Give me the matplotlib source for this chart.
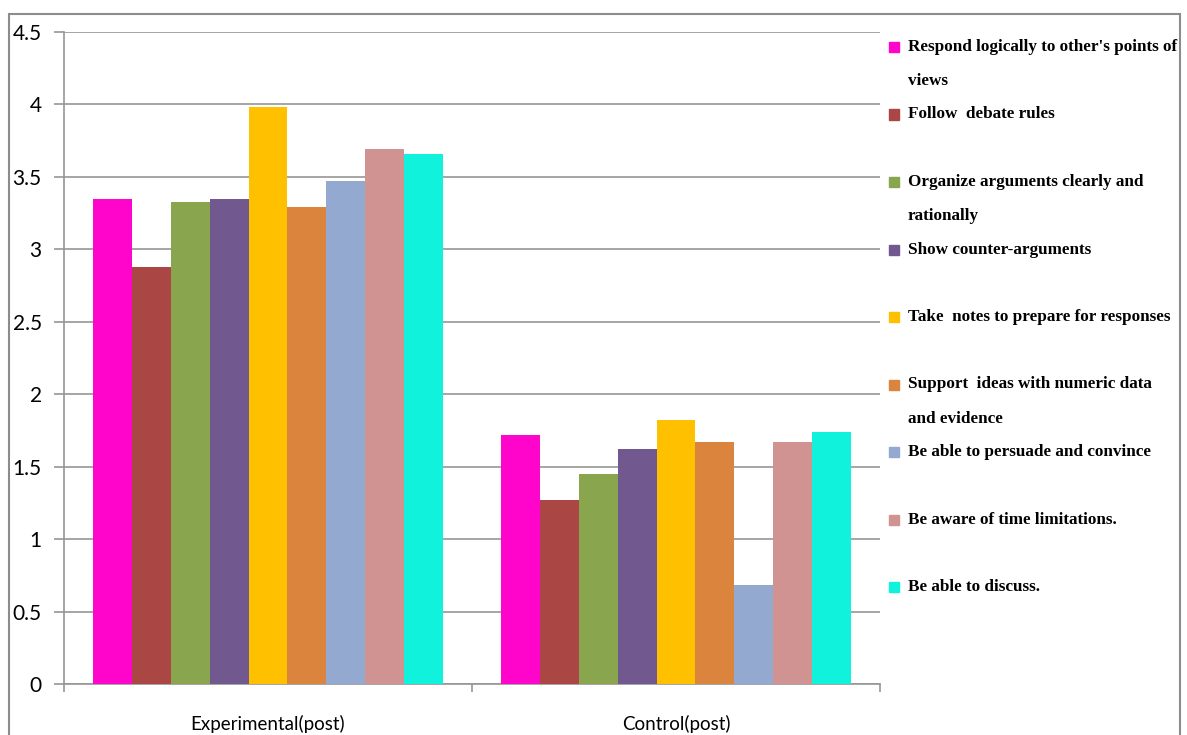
import matplotlib.pyplot as plt
import numpy as np
from matplotlib.patches import Rectangle

groups = ["Experimental(post)", "Control(post)"]
skills = [
    "Respond logically to other's points of\nviews",
    "Follow  debate rules",
    "Organize arguments clearly and\nrationally",
    "Show counter-arguments",
    "Take  notes to prepare for responses",
    "Support  ideas with numeric data\nand evidence",
    "Be able to persuade and convince",
    "Be aware of time limitations.",
    "Be able to discuss.",
]
experimental = [3.35, 2.88, 3.33, 3.35, 3.98, 3.29, 3.47, 3.69, 3.66]
control = [1.72, 1.27, 1.45, 1.62, 1.82, 1.67, 0.68, 1.67, 1.74]
colors = ["#FF05CC", "#AA4643", "#89A54E", "#71588F", "#FFC000",
          "#DB843D", "#93A9CF", "#D19392", "#10F2DC"]

W, H = 1187, 735
fig = plt.figure(figsize=(W / 100, H / 100), dpi=100)
ax = fig.add_axes([64 / W, 1 - 684 / H, (880 - 64) / W, (684 - 32) / H])

values = np.array([experimental, control])
x = np.arange(len(groups))
n = len(skills)
bw = 0.86 / n
for i in range(n):
    ax.bar(x - 0.43 + bw * (i + 0.5), values[:, i], width=bw,
           color=colors[i], linewidth=0, zorder=3)

grey = "#969696"
ax.set_ylim(0, 4.5)
ax.set_xlim(-0.5, 1.5)
ax.set_yticks(np.arange(0, 4.51, 0.5))
ax.set_yticklabels(["0", "0.5", "1", "1.5", "2", "2.5", "3", "3.5", "4", "4.5"],
                   family="Lato", fontsize=15)
ax.yaxis.grid(True, color=grey, linewidth=1.2, zorder=0)
ax.tick_params(axis="y", length=7, width=1.2, color=grey, pad=9)
ax.set_xticks([-0.5, 0.5, 1.5])
ax.set_xticklabels([])
ax.set_xticks(x, minor=True)
ax.set_xticklabels(groups, minor=True, family="Lato", fontsize=13.5)
ax.tick_params(axis="x", which="major", length=6, width=1.2, color=grey)
ax.tick_params(axis="x", which="minor", length=0, pad=22)
for s in ["top", "right"]:
    ax.spines[s].set_visible(False)
for s in ["left", "bottom"]:
    ax.spines[s].set_color(grey)
    ax.spines[s].set_linewidth(1.2)

# outer chart border
border = Rectangle((9.5 / W, -0.01), (1180 - 9.5) / W, 1.01 - 14 / H,
                   transform=fig.transFigure, fill=False,
                   edgecolor="#8c8c8c", linewidth=1.5)
fig.patches.append(border)

# legend drawn by hand so the marker sits on the first line
for i, (label, c) in enumerate(zip(skills, colors)):
    yc = 47 + 67.5 * i
    fig.patches.append(Rectangle((889 / W, 1 - (yc + 5) / H), 10 / W, 10 / H,
                                 transform=fig.transFigure, color=c))
    for k, line in enumerate(label.split("\n")):
        fig.text(908 / W, 1 - (yc + 34 * k) / H, line, family="Liberation Serif",
                 weight="bold", fontsize=12.3, va="center", ha="left",
                 color="black")

fig.savefig("out.png", dpi=100)
